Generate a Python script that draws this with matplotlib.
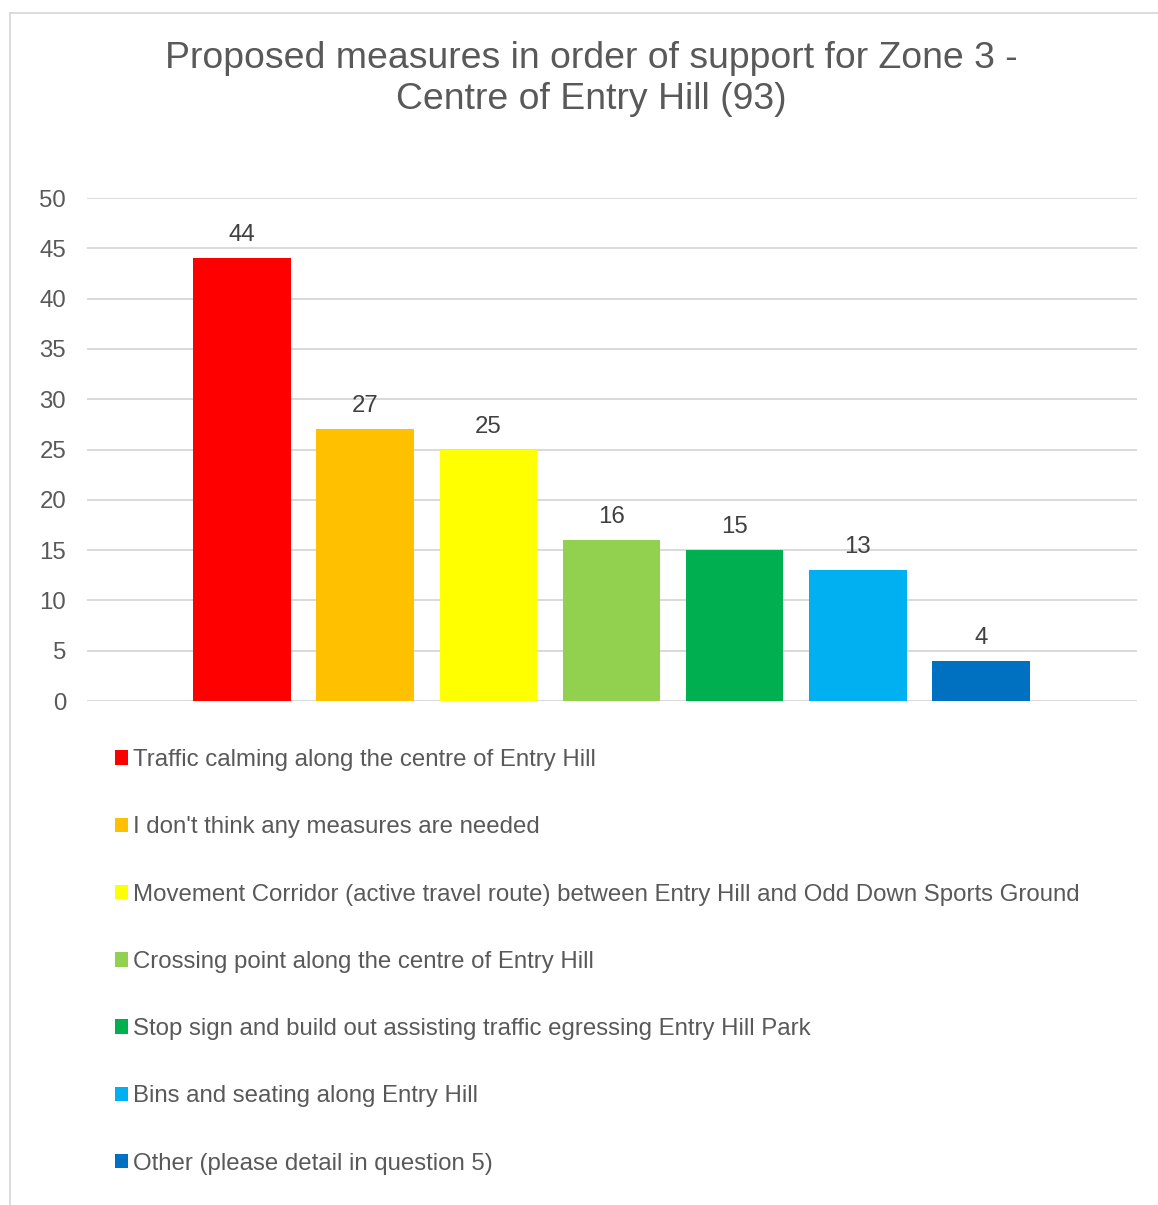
import matplotlib
matplotlib.use("Agg")
import matplotlib.pyplot as plt
from matplotlib.lines import Line2D

plt.rcParams['font.family'] = ['Liberation Sans', 'DejaVu Sans']

measures = [
    "Traffic calming along the centre of Entry Hill",
    "I don't think any measures are needed",
    "Movement Corridor (active travel route) between Entry Hill and Odd Down Sports Ground",
    "Crossing point along the centre of Entry Hill",
    "Stop sign and build out assisting traffic egressing Entry Hill Park",
    "Bins and seating along Entry Hill",
    "Other (please detail in question 5)",
]
counts = [44, 27, 25, 16, 15, 13, 4]
colors = ["#FF0000", "#FFC000", "#FFFF00", "#92D050", "#00B050", "#00B0F0", "#0070C0"]
yticks = [0, 5, 10, 15, 20, 25, 30, 35, 40, 45, 50]
title = "Proposed measures in order of support for Zone 3 -\nCentre of Entry Hill (93)"

W, H = 1158, 1205
fig = plt.figure(figsize=(W / 100, H / 100), dpi=100)
ax = fig.add_axes([87 / W, 1 - 701 / H, (1137 - 87) / W, (701 - 198) / H])

FS = 17.3
bars = []
for i, (c, col, lab) in enumerate(zip(counts, colors, measures)):
    b = ax.bar(i, c, width=0.79, color=col, label=lab, zorder=3)
    bars.append(b)
    ax.annotate(str(c), (i, c), xytext=(0, 12), textcoords="offset pixels",
                ha="center", va="bottom", fontsize=FS, color="#404040")

ax.set_xlim(-1.258, 7.266)
ax.set_ylim(0, 50)
ax.set_yticks(yticks)
ax.set_xticks([])
ax.grid(axis="y", color="#d9d9d9", linewidth=1.4, zorder=0)
for s in ax.spines.values():
    s.set_visible(False)
ax.tick_params(axis="y", length=0, pad=15, labelsize=FS, labelcolor="#595959")

fig.text(591 / W, 1 - 79 / H, title, ha="center", va="center", fontsize=26.9,
         color="#595959", linespacing=1.23)

leg = fig.legend(handles=[b[0] for b in bars], labels=measures,
                 loc="upper left", bbox_to_anchor=(115 / W, 1 - 749 / H),
                 frameon=False, fontsize=FS, labelcolor="#595959",
                 handlelength=0.55, handleheight=0.55, handletextpad=0.2,
                 labelspacing=1.885, borderaxespad=0, borderpad=0)

# chart border (left and top visible)
fig.add_artist(Line2D([10 / W, 10 / W], [0, 1 - 13 / H], color="#d9d9d9", lw=1.3,
                      transform=fig.transFigure))
fig.add_artist(Line2D([10 / W, 1], [1 - 13 / H, 1 - 13 / H], color="#d9d9d9", lw=1.3,
                      transform=fig.transFigure))

fig.savefig("out.png", dpi=100, facecolor="white")
